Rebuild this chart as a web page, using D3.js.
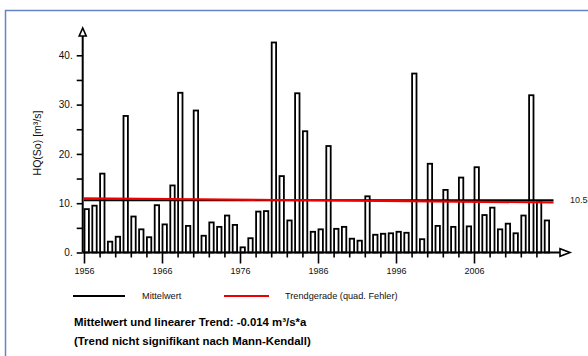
<!DOCTYPE html>
<html>
<head>
<meta charset="utf-8">
<script src="https://cdn.jsdelivr.net/npm/d3@7"></script>
<style>
  html, body { margin: 0; padding: 0; background: #fff; }
  svg { display: block; font-family: "Liberation Sans", Arial, sans-serif; }
</style>
</head>
<body>
<svg id="chart" width="588" height="356"></svg>
<script>
// ---- data ----
const years = d3.range(1956, 2016);
const hqValues = [
  8.8, 9.5, 16.0, 2.2, 3.2, 27.7, 7.3, 4.7, 3.1, 9.6,
  5.7, 13.6, 32.4, 5.4, 28.8, 3.4, 6.1, 5.2, 7.5, 5.6,
  1.05, 2.9, 8.3, 8.4, 42.6, 15.5, 6.5, 32.3, 24.6, 4.2,
  4.7, 21.6, 4.8, 5.2, 2.8, 2.4, 11.4, 3.6, 3.8, 3.9,
  4.2, 4.0, 36.3, 2.7, 18.0, 5.4, 12.7, 5.2, 15.2, 5.3,
  17.3, 7.6, 9.1, 4.7, 5.85, 3.9, 7.5, 31.9, 10.3, 6.5
];
const meanValue = 10.58;
const trendSlope = -0.014; // m³/s per year
const yTickValues = [0, 5, 10, 15, 20, 25, 30, 35, 40];
const yTickLabels = ["0.", "", "10.", "", "20.", "", "30.", "", "40."];
const xTickYears = d3.range(1956, 2016, 2);
const xLabelYears = [1956, 1966, 1976, 1986, 1996, 2006];
const legendLabels = ["Mittelwert", "Trendgerade (quad. Fehler)"];
const noteLines = ["Mittelwert und linearer Trend:  -0.014 m³/s*a",
                   "(Trend nicht signifikant nach Mann-Kendall)"];
const yAxisTitle = "HQ(So) [m³/s]";

// ---- layout ----
const svg = d3.select("#chart");
const x = d3.scaleLinear().domain([1956, 2016]).range([84, 552]);
const y = d3.scaleLinear().domain([0, 40]).range([252.5, 55.3]);
const axisX0 = 82.7;

// frame
svg.append("rect")
  .attr("x", 5.5).attr("y", 10.5).attr("width", 620).attr("height", 400)
  .attr("fill", "none").attr("stroke", "#6483c8").attr("stroke-width", 1.5);

// bars
svg.append("g").selectAll("rect").data(years).join("rect")
  .attr("x", d => x(d) + 0.5)
  .attr("width", 4.4)
  .attr("y", (d, i) => y(hqValues[i]))
  .attr("height", (d, i) => y(0) - y(hqValues[i]))
  .attr("fill", "#fff").attr("stroke", "#000").attr("stroke-width", 1.8);

// mean and trend lines
const tMid = (1956 + 2016) / 2;
const trend = t => meanValue + trendSlope * (t - tMid);
svg.append("line")
  .attr("x1", x(1956)).attr("x2", x(2016) + 1.5)
  .attr("y1", y(meanValue)).attr("y2", y(meanValue))
  .attr("stroke", "#000").attr("stroke-width", 2);
svg.append("line")
  .attr("x1", x(1956)).attr("x2", x(2016) + 1.5)
  .attr("y1", y(trend(1956))).attr("y2", y(trend(2016)))
  .attr("stroke", "#ee0000").attr("stroke-width", 2.2);

svg.append("text")
  .attr("x", 570).attr("y", y(meanValue) + 3)
  .attr("font-size", 9).attr("fill", "#222")
  .text(d3.format(".2f")(meanValue));

// y axis
const yAxis = d3.axisLeft(y).tickValues(yTickValues)
  .tickFormat((d, i) => yTickLabels[i]).tickSize(6).tickPadding(4);
const gy = svg.append("g").attr("transform", `translate(${axisX0},0)`).call(yAxis);
gy.select(".domain").remove();
gy.selectAll(".tick line").attr("stroke", "#000").attr("stroke-width", 1.6);
gy.selectAll(".tick text").attr("font-size", 10).attr("fill", "#111")
  .attr("font-family", "Liberation Sans, Arial, sans-serif");
svg.append("line").attr("x1", axisX0).attr("x2", axisX0)
  .attr("y1", y(0)).attr("y2", 36).attr("stroke", "#000").attr("stroke-width", 2);
svg.append("path")
  .attr("d", `M${axisX0},28 L${axisX0 - 3.5},36 L${axisX0 + 3.5},36 Z`)
  .attr("fill", "#fff").attr("stroke", "#000").attr("stroke-width", 1.6);

// x axis
const xAxis = d3.axisBottom(x).tickValues(xTickYears)
  .tickFormat(d => xLabelYears.includes(d) ? String(d) : "").tickSize(5).tickPadding(10);
const gx = svg.append("g").attr("transform", `translate(0,${y(0)})`).call(xAxis);
gx.select(".domain").remove();
gx.selectAll(".tick line").attr("stroke", "#000").attr("stroke-width", 1.6)
  .attr("y2", d => xLabelYears.includes(d) ? 11 : 5);
gx.selectAll(".tick text").attr("font-size", 9).attr("fill", "#111")
  .attr("font-family", "Liberation Sans, Arial, sans-serif").attr("dy", "0.71em");
svg.append("line").attr("x1", axisX0).attr("x2", 560)
  .attr("y1", y(0)).attr("y2", y(0)).attr("stroke", "#000").attr("stroke-width", 2);
svg.append("path")
  .attr("d", `M570,${y(0)} L560,${y(0) - 3.8} L560,${y(0) + 3.8} Z`)
  .attr("fill", "#fff").attr("stroke", "#000").attr("stroke-width", 1.6);

// y axis title
svg.append("text")
  .attr("transform", `translate(41,143) rotate(-90)`)
  .attr("text-anchor", "middle").attr("font-size", 10.5).attr("fill", "#111")
  .text(yAxisTitle);

// legend
const legend = svg.append("g");
legend.append("line").attr("x1", 73).attr("x2", 125).attr("y1", 296).attr("y2", 296)
  .attr("stroke", "#000").attr("stroke-width", 2);
legend.append("text").attr("x", 142).attr("y", 299).attr("font-size", 9.2).attr("fill", "#111")
  .text(legendLabels[0]);
legend.append("line").attr("x1", 224).attr("x2", 269).attr("y1", 296).attr("y2", 296)
  .attr("stroke", "#ee0000").attr("stroke-width", 2);
legend.append("text").attr("x", 285).attr("y", 299).attr("font-size", 9.2).attr("fill", "#111")
  .text(legendLabels[1]);

// notes
svg.append("text").attr("x", 74).attr("y", 325.5).attr("font-size", 11.4)
  .attr("font-weight", "bold").attr("fill", "#000").text(noteLines[0]);
svg.append("text").attr("x", 74).attr("y", 345).attr("font-size", 11.4)
  .attr("font-weight", "bold").attr("fill", "#000").text(noteLines[1]);
</script>
</body>
</html>
